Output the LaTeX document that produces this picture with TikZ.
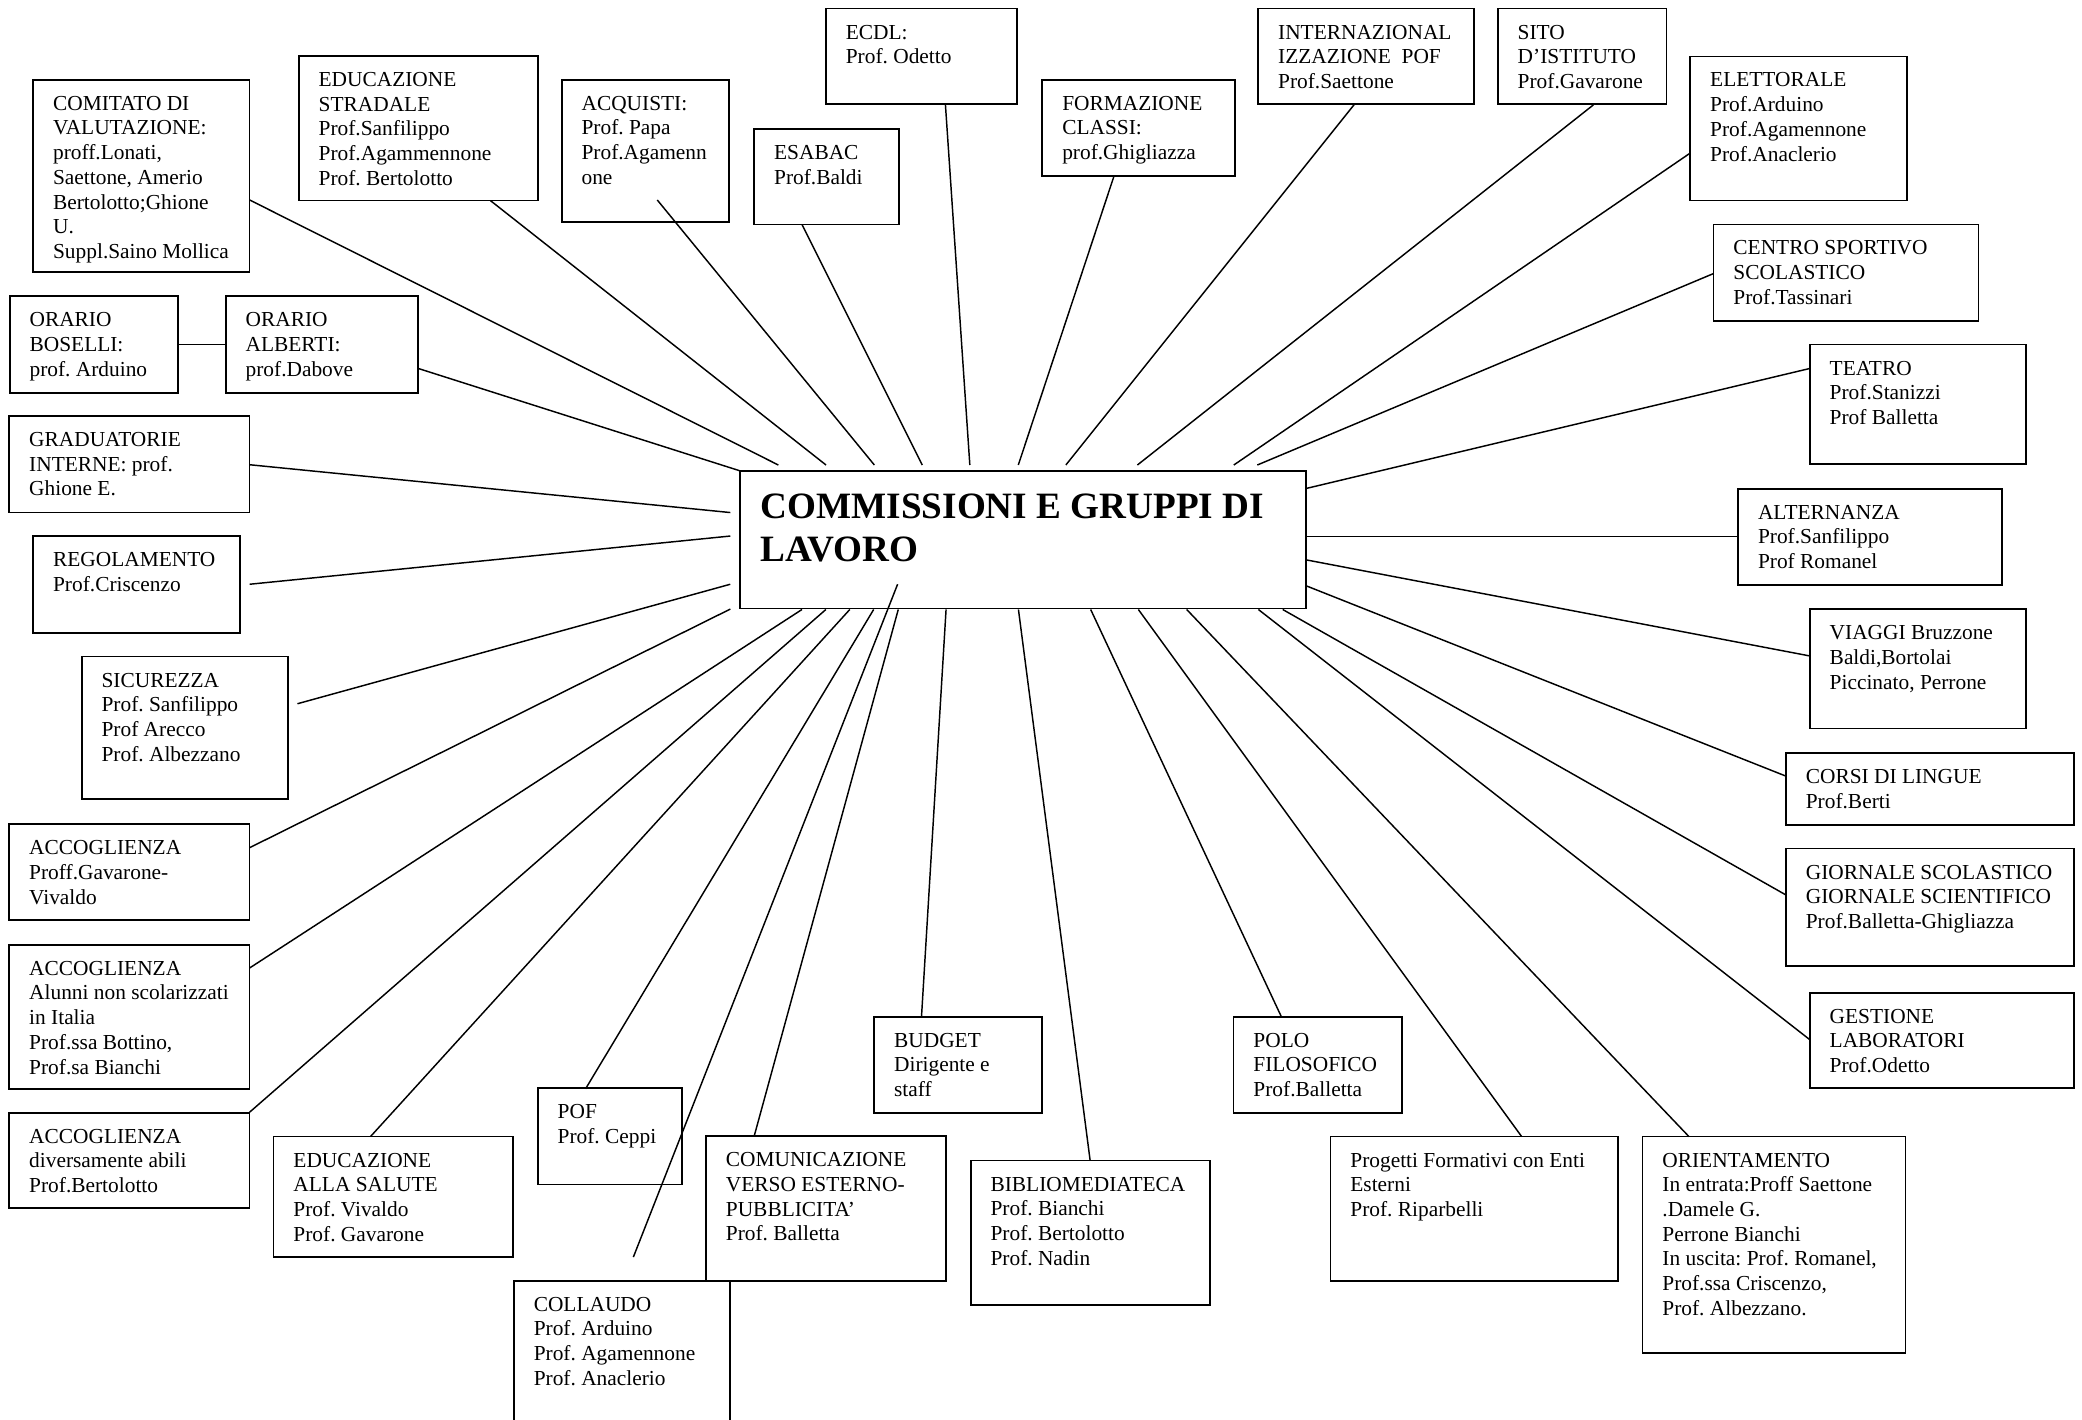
\documentclass[tikz,border=0pt]{standalone}
\usepackage{fontspec}
\setmainfont{Liberation Serif}
\frenchspacing
\newcommand\mkbox[6]{%
  \node[boxst, minimum width=#4pt, minimum height=#5pt] (#1) at (#2,#3) {};
  \node[txt] (#1-t) at ([xshift=15pt,yshift=-11pt]#1.north west) {\rule{0pt}{12pt}#6};}
\newcommand\lnk[5]{%
  \coordinate (#1-a) at (#2,#3);
  \coordinate (#1-b) at (#4,#5);
  \draw[link] (#1-a) -- (#1-b);}
\begin{document}
\begin{tikzpicture}[x=1pt,y=-1pt,
  boxst/.style={draw, line width=1.3pt, inner sep=0pt, outer sep=0pt, anchor=north west},
  txt/.style={anchor=north west, inner sep=0pt, outer sep=0pt, align=left,
              font=\fontsize{16.1pt}{18.6pt}\selectfont\frenchspacing},
  link/.style={line width=1.1pt}]
\fill[white] (0,0) rectangle (1568,1069);
\useasboundingbox (0,0) rectangle (1568,1069);

% central box
\node[boxst, minimum width=426.3pt, minimum height=103.7pt] (hub) at (557.5,354.6) {};
\node[txt, font=\fontsize{28pt}{32pt}\selectfont\bfseries] (title)
  at ([xshift=15.5pt,yshift=-14pt]hub.north west) {\rule{0pt}{22pt}COMMISSIONI E GRUPPI DI\\LAVORO};

% boxes
\mkbox{comitato}{25}{60}{163}{145}{COMITATO DI\\VALUTAZIONE:\\proff.Lonati,\\Saettone, Amerio\\Bertolotto;Ghione\\U.\\Suppl.Saino Mollica}
\mkbox{eduStr}{225}{42}{180}{109}{EDUCAZIONE\\STRADALE\\Prof.Sanfilippo\\Prof.Agammennone\\Prof. Bertolotto}
\mkbox{acquisti}{423}{60}{126}{107}{ACQUISTI:\\Prof. Papa\\Prof.Agamenn\\one}
\mkbox{esabac}{568}{97}{109}{72}{ESABAC\\Prof.Baldi}
\mkbox{ecdl}{622}{6.5}{144}{72}{ECDL:\\Prof. Odetto}
\mkbox{formaz}{785}{60}{145}{72.5}{FORMAZIONE\\CLASSI:\\prof.Ghigliazza}
\mkbox{internaz}{947.6}{6.5}{162.5}{72}{INTERNAZIONAL\\IZZAZIONE\ \ POF\\Prof.Saettone}
\mkbox{sito}{1128}{6.5}{127}{72}{SITO\\D’ISTITUTO\\Prof.Gavarone}
\mkbox{elett}{1273}{42.5}{163}{108.5}{ELETTORALE\\Prof.Arduino\\Prof.Agamennone\\Prof.Anaclerio}
\mkbox{centro}{1290.5}{169}{199.5}{72.5}{CENTRO SPORTIVO\\SCOLASTICO\\Prof.Tassinari}
\mkbox{teatro}{1363}{259.5}{163}{90}{TEATRO\\Prof.Stanizzi\\Prof Balletta}
\mkbox{altern}{1309}{368}{199}{72.5}{ALTERNANZA\\Prof.Sanfilippo\\Prof Romanel}
\mkbox{viaggi}{1363}{458.7}{163}{90}{VIAGGI Bruzzone\\Baldi,Bortolai\\Piccinato, Perrone}
\mkbox{corsi}{1345}{567}{217}{54.5}{CORSI DI LINGUE\\Prof.Berti}
\mkbox{giornale}{1345}{639}{217}{88.5}{GIORNALE SCOLASTICO\\GIORNALE SCIENTIFICO\\Prof.Balletta-Ghigliazza}
\mkbox{gestione}{1363}{747.6}{199}{72}{GESTIONE\\LABORATORI\\Prof.Odetto}
\mkbox{orient}{1237}{856}{198}{162.7}{ORIENTAMENTO\\In entrata:Proff Saettone\\.Damele G.\\Perrone Bianchi\\In uscita: Prof. Romanel,\\Prof.ssa Criscenzo,\\Prof. Albezzano.}
\mkbox{progetti}{1002}{856}{216.5}{108.5}{Progetti Formativi con Enti\\Esterni\\Prof. Riparbelli}
\mkbox{polo}{929}{765.7}{127}{72.3}{POLO\\FILOSOFICO\\Prof.Balletta}
\mkbox{biblio}{731}{874}{180.5}{108.8}{BIBLIOMEDIATECA\\Prof. Bianchi\\Prof. Bertolotto\\Prof. Nadin}
\mkbox{budget}{658.4}{765.7}{126.3}{72.3}{BUDGET\\Dirigente e\\staff}
\mkbox{comun}{531.7}{855.6}{180.8}{108.9}{COMUNICAZIONE\\VERSO ESTERNO-\\PUBBLICITA’\\Prof. Balletta}
\mkbox{collaudo}{387}{964.5}{163}{115}{COLLAUDO\\Prof. Arduino\\Prof. Agamennone\\Prof. Anaclerio}
\mkbox{pof}{405}{819.6}{108.5}{72.4}{POF\\Prof. Ceppi}
\mkbox{eduSal}{206}{856}{180.5}{90.7}{EDUCAZIONE\\ALLA SALUTE\\Prof. Vivaldo\\Prof. Gavarone}
\mkbox{accC}{7}{838}{181}{72}{ACCOGLIENZA\\diversamente abili\\Prof.Bertolotto}
\mkbox{accB}{7}{711.5}{181}{108.5}{ACCOGLIENZA\\Alunni non scolarizzati\\in Italia\\Prof.ssa Bottino,\\Prof.sa Bianchi}
\mkbox{accA}{7}{620.8}{181}{72}{ACCOGLIENZA\\Proff.Gavarone-\\Vivaldo}
\mkbox{sicur}{61.5}{494.5}{155.3}{107.5}{SICUREZZA\\Prof. Sanfilippo\\Prof Arecco\\Prof. Albezzano}
\mkbox{regol}{25}{403.7}{155.5}{72.8}{REGOLAMENTO\\Prof.Criscenzo}
\mkbox{grad}{7}{313.3}{181}{72.7}{GRADUATORIE\\INTERNE: prof.\\Ghione E.}
\mkbox{boselli}{7.3}{223}{126.7}{72.7}{ORARIO\\BOSELLI:\\prof. Arduino}
\mkbox{alberti}{170}{223}{144.7}{72.7}{ORARIO\\ALBERTI:\\prof.Dabove}

% connectors
\draw[link] (boselli.east) -- (alberti.west);
\lnk{comitatoL}{188}{150.6}{586.2}{350.2}
\lnk{eduStrL}{369.4}{151.1}{622.1}{350.2}
\lnk{acquistiL}{495}{150.6}{658.5}{350.2}
\lnk{esabacL}{604}{169}{694.6}{350.2}
\lnk{ecdlL}{712}{78.6}{730.4}{350.2}
\lnk{formazL}{839}{132.5}{766.9}{350.2}
\lnk{internazL}{1020}{78.6}{802.7}{350.2}
\lnk{sitoL}{1200}{79}{856.6}{350.2}
\lnk{elettL}{1272.6}{115.5}{929.2}{350.2}
\lnk{centroL}{1290.5}{206}{946.9}{350.2}
\lnk{teatroL}{1363}{277.5}{984}{367.8}
\lnk{alternL}{1309}{404.2}{984}{404.2}
\lnk{viaggiL}{1363}{494}{984}{421.7}
\lnk{corsiL}{1345}{584.5}{984}{441.3}
\lnk{giornaleL}{1345}{674}{966}{459}
\lnk{gestioneL}{1363}{783}{947.7}{459}
\lnk{orientL}{1272}{856}{893.7}{459}
\lnk{progettiL}{1146}{856}{857.3}{459}
\lnk{poloL}{965}{765.7}{821.4}{459}
\lnk{biblioL}{821}{874}{767}{459}
\lnk{budgetL}{694}{765.7}{712.5}{459}
\lnk{comunL}{568}{855.6}{676.5}{459}
\lnk{collaudoL}{477}{946.7}{676}{440}
\lnk{pofL}{441}{820}{658}{459}
\lnk{eduSalL}{279}{856}{640}{459}
\lnk{accCL}{188}{837.6}{622}{459}
\lnk{accBL}{188}{729}{604}{459}
\lnk{accAL}{188}{638.4}{550}{458.7}
\lnk{sicurL}{224}{530}{550}{440}
\lnk{regolL}{188}{440}{550}{403.7}
\lnk{gradL}{188}{350}{550}{386}
\lnk{albertiL}{314.7}{277.4}{557}{354.5}
\end{tikzpicture}
\end{document}
